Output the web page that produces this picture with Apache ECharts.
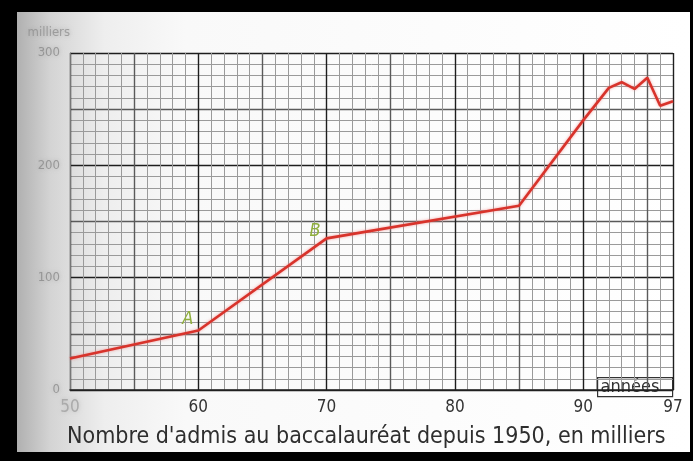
<!DOCTYPE html>
<html>
<head>
<meta charset="utf-8">
<script src="https://cdn.jsdelivr.net/npm/echarts@6/dist/echarts.min.js"></script>
<style>
  html, body { margin: 0; padding: 0; background: #000; }
  #chart { width: 693px; height: 461px; }
</style>
</head>
<body>
<div id="chart"></div>
<script>
// Admis au baccalauréat, en milliers
const years  = [1950, 1960, 1970, 1985, 1990, 1992, 1993, 1994, 1995, 1996, 1997];
const admis  = [28,   53,   135,  164,  240,  269,  274,  268,  278,  253,  257];
// Points annotated with a letter, and where the letter sits
const marks = { 1960: 'A', 1970: 'B' };
const markOffsets = { 1960: [-16, -20], 1970: [-17, -16] };
// Tick labels of the year axis
const yearLabels = { 1950: '50', 1960: '60', 1970: '70', 1980: '80', 1990: '90', 1997: '97' };
const countLabels = ['0', '100', '200', '300'];

const FONT = "'Liberation Sans Narrow', 'DejaVu Sans Condensed', 'DejaVu Sans', sans-serif";

const chart = echarts.init(document.getElementById('chart'), null, { renderer: 'canvas' });

const seriesData = years.map((y, i) => {
  const item = { value: [y, admis[i]] };
  if (marks[y]) {
    item.label = {
      show: true,
      formatter: marks[y],
      position: markOffsets[y],
      color: '#8fae3c',
      fontStyle: 'italic',
      fontSize: 18,
      fontFamily: FONT
    };
  }
  return item;
});

const GRID = { left: 70, right: 20, top: 53, bottom: 71 };

chart.setOption({
  backgroundColor: '#000',
  animation: false,
  graphic: [
    {
      type: 'rect', z: -10, silent: true,
      shape: { x: 17, y: 12, width: 673, height: 440 },
      style: {
        fill: new echarts.graphic.LinearGradient(0, 0, 1, 0, [
          { offset: 0, color: '#b0b0b0' },
          { offset: 0.05, color: '#d4d4d4' },
          { offset: 0.13, color: '#eeeeee' },
          { offset: 0.25, color: '#f9f9f9' },
          { offset: 1, color: '#ffffff' }
        ])
      }
    },
    {
      type: 'group', left: 597, top: 377, z: 20,
      children: [
        { type: 'rect', shape: { x: 0, y: 0, width: 75, height: 19 },
          style: { fill: '#fff', stroke: '#333', lineWidth: 1.2 } },
        { type: 'text', left: 3, top: 1,
          style: { text: 'années', fill: '#333', font: '18px ' + FONT } }
      ]
    }
  ],
  title: {
    text: "Nombre d'admis au baccalauréat depuis 1950, en milliers",
    left: 62, top: 421,
    textStyle: { fontSize: 23, fontWeight: 'normal', color: '#2e2e2e', fontFamily: FONT }
  },
  grid: GRID,
  xAxis: [
    {
      type: 'value', min: 1950, max: 1997, interval: 5,
      axisLine: { show: false }, axisTick: { show: false }, axisLabel: { show: false },
      splitLine: { show: true, lineStyle: { color: ['#1e1e1e', '#5a5a5a'], width: 1.4 } },
      minorTick: { show: false, splitNumber: 5 },
      minorSplitLine: { show: true, lineStyle: { color: '#9a9a9a', width: 1 } }
    },
    {
      type: 'value', min: 1950, max: 1997, interval: 1, position: 'bottom',
      axisLine: { show: true, lineStyle: { color: '#222', width: 1.6 } },
      axisTick: { show: false },
      splitLine: { show: false },
      axisLabel: {
        show: true, margin: 9, showMinLabel: true, showMaxLabel: true,
        formatter: v => {
          const t = yearLabels[v];
          if (!t) return '';
          return v === 1950 ? '{faint|' + t + '}' : t;
        },
        color: '#333', fontSize: 17, fontFamily: FONT,
        rich: { faint: { color: '#aaa', fontSize: 17, fontFamily: FONT,
                         textShadowColor: '#bbb', textShadowBlur: 4 } }
      }
    }
  ],
  yAxis: {
    type: 'value', min: 0, max: 300, interval: 50,
    name: 'milliers', nameLocation: 'end', nameGap: 14,
    nameTextStyle: { color: 'rgba(140,140,140,0.75)', fontSize: 13, fontFamily: FONT,
                     align: 'right', padding: [0, 0, 0, 0],
                     textShadowColor: '#999', textShadowBlur: 5 },
    axisLine: { show: true, lineStyle: { color: '#777', width: 1 } },
    axisTick: { show: false },
    axisLabel: {
      margin: 10,
      formatter: v => (v % 100 === 0 ? countLabels[v / 100] : ''),
      color: 'rgba(130,130,130,0.7)', fontSize: 13, fontFamily: FONT,
      textShadowColor: '#999', textShadowBlur: 5
    },
    splitLine: { show: true, lineStyle: { color: ['#1e1e1e', '#5a5a5a'], width: 1.4 } },
    minorTick: { show: false, splitNumber: 5 },
    minorSplitLine: { show: true, lineStyle: { color: '#9a9a9a', width: 1 } }
  },
  series: [{
    type: 'line',
    xAxisIndex: 0,
    data: seriesData,
    symbol: 'circle',
    symbolSize: 0,
    showSymbol: true,
    itemStyle: { color: '#d8332b' },
    lineStyle: { color: '#d8332b', width: 2.6, shadowColor: 'rgba(240,120,120,0.7)', shadowBlur: 3 },
    z: 10
  }]
});
</script>
</body>
</html>
